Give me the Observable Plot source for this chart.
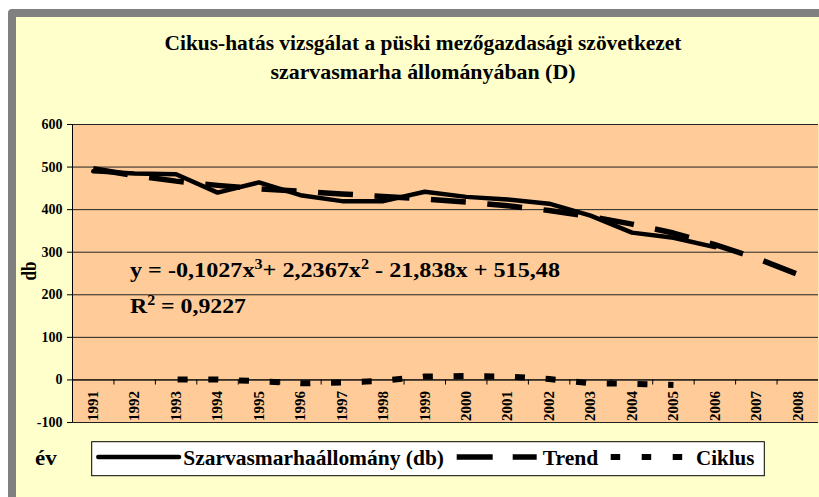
<!DOCTYPE html>
<html>
<head>
<meta charset="utf-8">
<script src="https://cdn.jsdelivr.net/npm/d3@7"></script>
<script src="https://cdn.jsdelivr.net/npm/@observablehq/plot@0.6"></script>
<style>
  html, body { margin: 0; padding: 0; background: #fff; }
  #page { position: relative; width: 819px; height: 497px; overflow: hidden; background: #fff; font-family: "Liberation Serif", serif; }
  #frame { position: absolute; left: 8px; top: 9px; width: 830px; height: 500px; background: #808080; border-radius: 4px; }
  #inner { position: absolute; left: 16px; top: 17px; width: 820px; height: 490px; background: #FFFFCC; }
  #plot { position: absolute; left: 0; top: 100px; }
  #overlay { position: absolute; left: 0; top: 0; pointer-events: none; }
  #page svg text { font-family: "Liberation Serif", serif !important; font-weight: bold; }
</style>
</head>
<body>
<div id="page">
  <div id="frame"></div>
  <div id="inner"></div>
  <div id="plot"></div>
  <svg id="overlay" width="819" height="497"></svg>
</div>
<script>
// ---- data ----
const years = [1991, 1992, 1993, 1994, 1995, 1996, 1997, 1998, 1999, 2000, 2001, 2002, 2003, 2004, 2005, 2006, 2007, 2008];
const allomanyYears = [1991, 1992, 1993, 1994, 1995, 1996, 1997, 1998, 1999, 2000, 2001, 2002, 2003, 2004, 2005, 2006];
const allomany = [490, 485, 483, 440, 464, 434, 420, 420, 442, 430, 424, 414, 386, 346, 334, 312];
const trend = [496, 480, 467, 457, 449, 443, 437, 431, 425, 418, 409, 398, 384, 366, 345, 318, 286, 248];
const ciklusYears = [1993, 1994, 1995, 1996, 1997, 1998, 1999, 2000, 2001, 2002, 2003, 2004, 2005];
const ciklus = [1, 1, -3, -8, -6, -2, 8, 9, 8, 2, -8, -9, -12];
const yTicks = [-100, 0, 100, 200, 300, 400, 500, 600];

const titleLines = ["Cikus-hatás vizsgálat a püski mezőgazdasági szövetkezet", "szarvasmarha állományában (D)"];
const yLabel = "db";
const xLabel = "év";
const seriesNames = ["Szarvasmarhaállomány (db)", "Trend", "Ciklus"];

// ---- tables ----
const actualData = allomanyYears.map((y, i) => ({year: y, value: allomany[i]}));
const trendData = years.map((y, i) => ({year: y, value: trend[i]}));
const ciklusData = ciklusYears.map((y, i) => ({year: y, value: ciklus[i]}));
const bounds = years.slice(0, -1).map(y => y + 0.5);
const xDomain = [years[0] - 0.5, years[years.length - 1] + 0.5];
const serif = "Liberation Serif";

const chart = Plot.plot({
  width: 819,
  height: 330,
  marginLeft: 72,
  marginRight: 1,
  marginTop: 24,
  marginBottom: 8,
  style: {background: "transparent", fontFamily: serif, fontWeight: "bold", fontSize: "14px", color: "#000", overflow: "visible"},
  x: {domain: xDomain, axis: null},
  y: {domain: [yTicks[0], yTicks[yTicks.length - 1]], ticks: 7, tickSize: 5, tickPadding: 5, label: null, tickFormat: d => String(d)},
  marks: [
    Plot.frame({fill: "#FFCC99", stroke: null}),
    Plot.ruleY(yTicks, {stroke: "#222", strokeWidth: 1}),
    Plot.ruleX([xDomain[0]], {stroke: "#000", strokeWidth: 1}),
    Plot.ruleY([0], {stroke: "#000", strokeWidth: 1}),
    Plot.ruleX(bounds, {y1: 0, y2: -12, stroke: "#000", strokeWidth: 1}),
    Plot.text(years, {x: d => d, y: 0, text: d => String(d), rotate: -90, textAnchor: "end", lineAnchor: "middle", dy: 11, fontSize: 15, fontWeight: "bold", fontFamily: serif, fill: "#000"}),
    Plot.line(ciklusData, {x: "year", y: "value", stroke: "#000", strokeWidth: 6, strokeDasharray: "10,20.7", strokeDashoffset: 29.2, strokeLinecap: "butt"}),
    Plot.line(trendData, {x: "year", y: "value", stroke: "#000", strokeWidth: 5.5, strokeDasharray: "35,21.55", strokeLinecap: "butt"}),
    Plot.line(actualData, {x: "year", y: "value", stroke: "#000", strokeWidth: 4.5, strokeLinejoin: "round", strokeLinecap: "round"})
  ]
});
d3.select(chart).selectAll("text").style("font-family", serif).style("font-weight", "bold");
document.getElementById("plot").appendChild(chart);

// ---- overlay texts and legend ----
const ov = d3.select("#overlay");
function txt(sel) { return sel.style("font-family", serif).style("font-weight", "bold").attr("fill", "#000"); }

// title
txt(ov.append("text")).attr("x", 423).attr("y", 50).attr("text-anchor", "middle").attr("font-size", 21)
  .attr("textLength", 517).attr("lengthAdjust", "spacingAndGlyphs").text(titleLines[0]);
txt(ov.append("text")).attr("x", 423).attr("y", 79).attr("text-anchor", "middle").attr("font-size", 21)
  .attr("textLength", 305).attr("lengthAdjust", "spacingAndGlyphs").text(titleLines[1]);

// y label
txt(ov.append("text")).attr("transform", "translate(36,271) rotate(-90)").attr("text-anchor", "middle")
  .attr("font-size", 22).attr("textLength", 19).attr("lengthAdjust", "spacingAndGlyphs").text(yLabel);

// equation
const eq = txt(ov.append("text")).attr("x", 130).attr("y", 277).attr("font-size", 21)
  .attr("textLength", 430).attr("lengthAdjust", "spacingAndGlyphs");
eq.append("tspan").text("y = -0,1027x");
eq.append("tspan").attr("dy", -8).attr("font-size", 14).text("3");
eq.append("tspan").attr("dy", 8).text("+ 2,2367x");
eq.append("tspan").attr("dy", -8).attr("font-size", 14).text("2");
eq.append("tspan").attr("dy", 8).text(" - 21,838x + 515,48");

const r2 = txt(ov.append("text")).attr("x", 130).attr("y", 313).attr("font-size", 21)
  .attr("textLength", 116).attr("lengthAdjust", "spacingAndGlyphs");
r2.append("tspan").text("R");
r2.append("tspan").attr("dy", -8).attr("font-size", 14).text("2");
r2.append("tspan").attr("dy", 8).text(" = 0,9227");

// x label
txt(ov.append("text")).attr("x", 35).attr("y", 465).attr("font-size", 20)
  .attr("textLength", 21.7).attr("lengthAdjust", "spacingAndGlyphs").text(xLabel);

// legend box
ov.append("rect").attr("x", 91.7).attr("y", 441.7).attr("width", 672.6).attr("height", 34)
  .attr("fill", "#fff").attr("stroke", "#000").attr("stroke-width", 1);

const legendItems = [
  {name: seriesNames[0], x1: 98.3, x2: 179, tx: 183.3, tl: 260.7, width: 4.5, dash: null, cap: "round"},
  {name: seriesNames[1], x1: 456.7, x2: 536.7, tx: 542.7, tl: 55.6, width: 5.5, dash: "36,20", cap: "butt"},
  {name: seriesNames[2], x1: 610.7, x2: 690, tx: 696, tl: 58.3, width: 6, dash: "9.5,21.5", cap: "butt"}
];
for (const it of legendItems) {
  const l = ov.append("line").attr("x1", it.x1).attr("x2", it.x2).attr("y1", 457).attr("y2", 457)
    .attr("stroke", "#000").attr("stroke-width", it.width).attr("stroke-linecap", it.cap);
  if (it.dash) l.attr("stroke-dasharray", it.dash);
  txt(ov.append("text")).attr("x", it.tx).attr("y", 465).attr("font-size", 20)
    .attr("textLength", it.tl).attr("lengthAdjust", "spacingAndGlyphs").text(it.name);
}
</script>
</body>
</html>
